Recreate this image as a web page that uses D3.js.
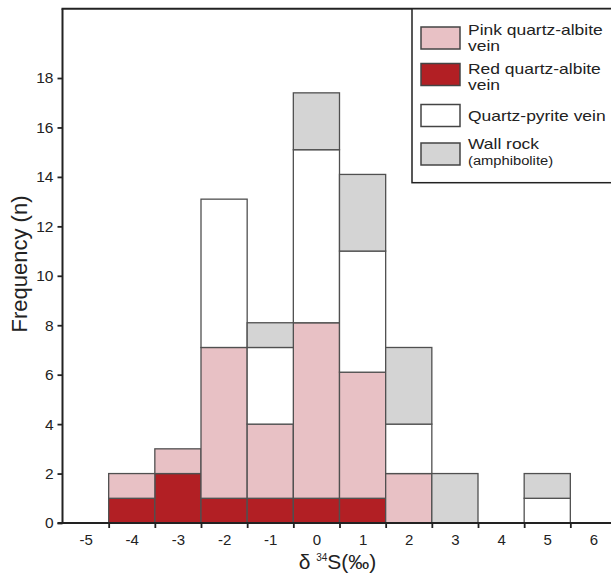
<!DOCTYPE html>
<html>
<head>
<meta charset="utf-8">
<script src="https://cdn.jsdelivr.net/npm/d3@7"></script>
<style>
	body { margin: 0; background: #fff; }
	svg { display: block; font-family: "Liberation Sans", Arial, sans-serif; }
</style>
</head>
<body>
<div id="chart"></div>
<script>
// Histogram bins (delta 34S, per mil) and stacked counts per rock type
const BINS = [-4, -3, -2, -1, 0, 1, 2, 3, 4, 5];
const RED_VEIN = [1, 2, 1, 1, 1, 1, 0, 0, 0, 0];
const PINK_VEIN = [1, 1, 6.1, 3, 7.1, 5.1, 2, 0, 0, 0];
const PYRITE_VEIN = [0, 0, 6, 3.1, 7, 4.9, 2, 0, 0, 1];
const WALL_ROCK = [0, 0, 0, 1, 2.3, 3.1, 3.1, 2, 0, 1];
const X_LABELS = [-5, -4, -3, -2, -1, 0, 1, 2, 3, 4, 5, 6];
const Y_TICKS = [0, 2, 4, 6, 8, 10, 12, 14, 16, 18];

const SERIES = [
	{ key: "red", fill: "#b21f24", values: RED_VEIN },
	{ key: "pink", fill: "#e8c1c5", values: PINK_VEIN },
	{ key: "pyrite", fill: "#ffffff", values: PYRITE_VEIN },
	{ key: "wall", fill: "#d4d4d4", values: WALL_ROCK },
];

const LEGEND = [
	{ fill: "#e8c1c5", lines: ["Pink quartz-albite", "vein"] },
	{ fill: "#b21f24", lines: ["Red quartz-albite", "vein"] },
	{ fill: "#ffffff", lines: ["Quartz-pyrite vein"] },
	{ fill: "#d4d4d4", lines: ["Wall rock", "(amphibolite)"] },
];

var width = 611;
var height = 577;
var margin = { top: 8.8, left: 62.5, bottom: 54, right: -5.5 };

var svg = d3.select("#chart").append("svg")
	.attr("width", width)
	.attr("height", height);

// table for d3.stack
var table = BINS.map(function(b, i) {
	var row = { bin: b };
	SERIES.forEach(function(s) { row[s.key] = s.values[i]; });
	return row;
});
var stacked = d3.stack().keys(SERIES.map(s => s.key))(table);

var x = d3.scaleLinear()
	.domain([-5.5, 6.5])
	.range([margin.left, width - margin.right]);
var y = d3.scaleLinear()
	.domain([0, 20.8])
	.range([height - margin.bottom, margin.top]);

// Bars
var g = svg.append("g").attr("class", "bars");
stacked.forEach(function(layer, li) {
	g.selectAll(".seg-" + layer.key)
		.data(layer.filter(d => d[1] - d[0] > 0))
		.enter().append("rect")
		.attr("x", d => x(d.data.bin - 0.5))
		.attr("width", d => x(d.data.bin + 0.5) - x(d.data.bin - 0.5))
		.attr("y", d => y(d[1]))
		.attr("height", d => y(d[0]) - y(d[1]))
		.attr("fill", SERIES[li].fill)
		.attr("stroke", "#505050")
		.attr("stroke-width", 1.3);
});

// X axis: ticks on bin edges, labels on integers
var edges = d3.range(-4.5, 6.6, 1);
var xAxisTicks = d3.axisBottom(x).tickValues(edges).tickSize(5).tickFormat("");
var xg = svg.append("g")
	.attr("transform", "translate(0," + y(0) + ")")
	.call(xAxisTicks);
xg.select(".domain").remove();
xg.selectAll("line").attr("stroke", "#222").attr("stroke-width", 1.8);

var xAxisLabels = d3.axisBottom(x).tickValues(X_LABELS).tickSize(0).tickPadding(11.5)
	.tickFormat(d => String(d));
var xl = svg.append("g")
	.attr("transform", "translate(0," + y(0) + ")")
	.call(xAxisLabels);
xl.select(".domain").remove();
xl.selectAll("text").attr("font-size", "15px").attr("fill", "#222")
	.style("font-family", "Liberation Sans, Arial, sans-serif");

// Y axis
var yAxis = d3.axisLeft(y).tickValues(Y_TICKS).tickSize(5).tickPadding(4);
var yg = svg.append("g")
	.attr("transform", "translate(" + margin.left + ",0)")
	.call(yAxis);
yg.select(".domain").remove();
yg.selectAll("line").attr("stroke", "#222").attr("stroke-width", 1.8);
yg.selectAll("text").attr("font-size", "15.5px").attr("fill", "#222")
	.style("font-family", "Liberation Sans, Arial, sans-serif");

// Frame lines (left, bottom, top)
svg.append("line")
	.attr("x1", x(-5.5)).attr("x2", x(-5.5))
	.attr("y1", y(20.8)).attr("y2", y(0))
	.attr("stroke", "#222").attr("stroke-width", 2);
svg.append("line")
	.attr("x1", x(-5.5) - 5).attr("x2", width)
	.attr("y1", y(0)).attr("y2", y(0))
	.attr("stroke", "#222").attr("stroke-width", 2);
svg.append("line")
	.attr("x1", x(-5.5) - 1).attr("x2", width)
	.attr("y1", y(20.8)).attr("y2", y(20.8))
	.attr("stroke", "#222").attr("stroke-width", 2);

// Axis titles
svg.append("text")
	.attr("transform", "translate(27," + 264 + ") rotate(-90)")
	.attr("text-anchor", "middle")
	.attr("font-size", "22px")
	.attr("fill", "#222")
	.text("Frequency (n)");

var xt = svg.append("text")
	.attr("x", x(0.5) - 2)
	.attr("y", 568.5)
	.attr("text-anchor", "middle")
	.attr("font-size", "21px")
	.attr("fill", "#222");
xt.append("tspan").text("δ ");
xt.append("tspan").attr("font-size", "10px").attr("dy", -8).text("34");
xt.append("tspan").attr("dy", 8).text("S(‰)");

// Legend
var lg = svg.append("g").attr("class", "legend");
lg.append("rect")
	.attr("x", 412).attr("y", y(20.8))
	.attr("width", 220).attr("height", 182.7 - y(20.8))
	.attr("fill", "#fff")
	.attr("stroke", "#222")
	.attr("stroke-width", 1.5);

var swatchY = [27, 63.5, 104.5, 143];
var textY = [[35, 51.4], [73.5, 89.9], [120.5], [149, 164.5]];
LEGEND.forEach(function(item, i) {
	lg.append("rect")
		.attr("x", 421).attr("y", swatchY[i])
		.attr("width", 39).attr("height", 22)
		.attr("fill", item.fill)
		.attr("stroke", "#444")
		.attr("stroke-width", 1.5);
	item.lines.forEach(function(line, j) {
		var small = line.charAt(0) === "(";
		var size = small ? 12 : 14.5;
		var t = lg.append("text")
			.attr("x", 468)
			.attr("y", textY[i][j])
			.attr("font-size", size + "px")
			.attr("fill", "#222")
			.text(line);
		// reference lettering is wider than Arial: stretch to its width
		var target = small ? 13.5 : 16;
		var len = t.node().getComputedTextLength();
		t.attr("textLength", len * (target / size) * 1.09)
			.attr("lengthAdjust", "spacingAndGlyphs");
	});
});
</script>
</body>
</html>
